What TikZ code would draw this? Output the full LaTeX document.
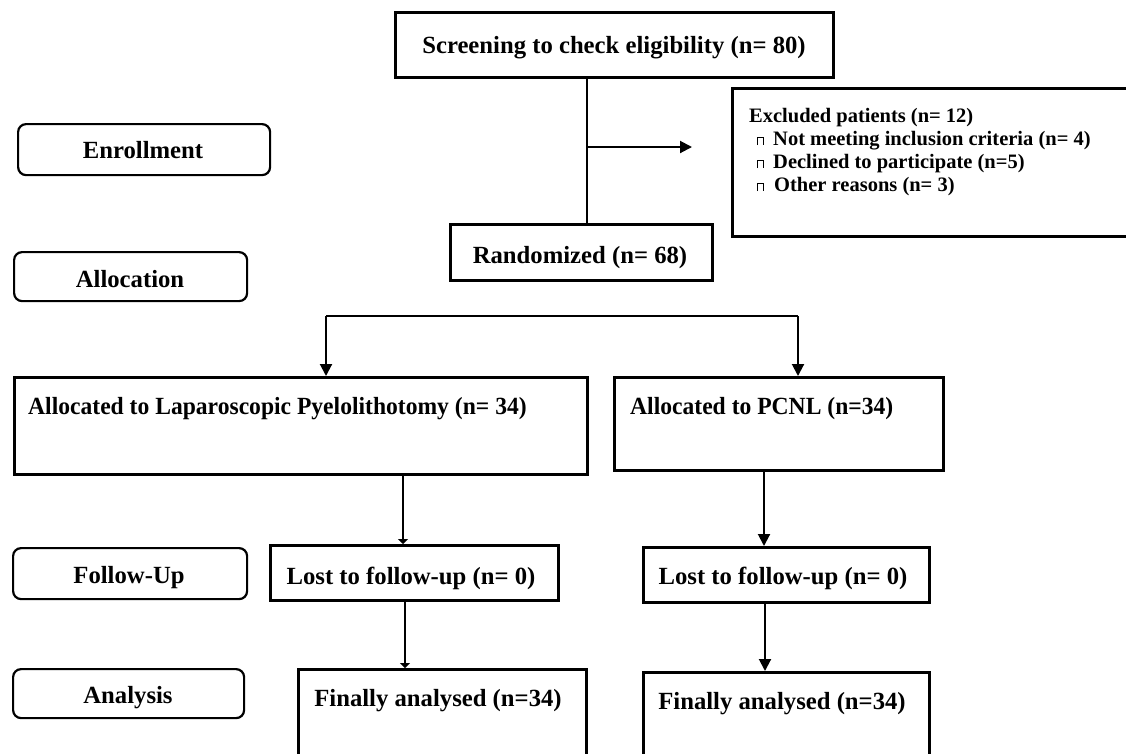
\documentclass[tikz,border=0pt]{standalone}
\usepackage{fontspec}
\setmainfont{Liberation Serif}
\usetikzlibrary{arrows.meta}
\begin{document}
\begin{tikzpicture}[x=1pt,y=-1pt,
  box/.style={draw, line width=2.6pt, inner sep=0pt, anchor=north west},
  rbox/.style={draw, line width=2.2pt, rounded corners=8pt, inner sep=0pt, anchor=north west},
  lbl/.style={anchor=base, inner sep=0pt, font=\fontsize{24.7}{28}\selectfont\bfseries},
  exl/.style={anchor=base west, inner sep=0pt, font=\fontsize{20.5}{24}\selectfont\bfseries},
  bul/.style={line width=0.8pt},
  conn/.style={line width=2pt},
  arr/.style={conn, -{Triangle[length=12pt,width=12pt]}},
  sarr/.style={conn, -{Triangle[length=5pt,width=10pt]}}]
\useasboundingbox (0,0) rectangle (1126,753);
\fill[white] (0,0) rectangle (1126,753);

% boxes
\node[box, minimum width=438pt, minimum height=65pt] (screen) at (394,11) {};
\node[box, minimum width=262pt, minimum height=56pt] (rand) at (449,223) {};
\node[box, minimum width=409pt, minimum height=148pt] (excl) at (731,87) {};
\node[rbox, minimum width=252pt, minimum height=51pt] (enroll) at (17,123) {};
\node[rbox, minimum width=233pt, minimum height=49pt] (alloc) at (13,251) {};
\node[box, minimum width=573pt, minimum height=97pt] (allocL) at (13,376) {};
\node[box, minimum width=329pt, minimum height=93pt] (allocR) at (613,376) {};
\node[rbox, minimum width=234pt, minimum height=51pt] (follow) at (12,547) {};
\node[rbox, minimum width=231pt, minimum height=49pt] (analysis) at (12,668) {};
\node[box, minimum width=288pt, minimum height=55pt] (lostL) at (269,544) {};
\node[box, minimum width=286pt, minimum height=55pt] (lostR) at (642,546) {};
\node[box, minimum width=288pt, minimum height=112pt] (finalL) at (297,668) {};
\node[box, minimum width=286pt, minimum height=109pt] (finalR) at (642,671) {};

% texts
\node[lbl] (screenT) at (614,53) {Screening to check eligibility (n= 80)};
\node[lbl] (randT) at (580,263) {Randomized (n= 68)};
\node[lbl] (enrollT) at (143,158) {Enrollment};
\node[lbl] (allocT) at (130,287) {Allocation};
\node[lbl] (followT) at (129,583) {Follow-Up};
\node[lbl] (analysisT) at (128,703) {Analysis};
\node[lbl, anchor=base west] (allocLT) at (28,414) {\scalebox{0.955}[1]{Allocated to Laparoscopic Pyelolithotomy (n= 34)}};
\node[lbl, anchor=base west] (allocRT) at (630,414) {\scalebox{0.955}[1]{Allocated to PCNL (n=34)}};
\node[lbl] (lostLT) at (411,584) {Lost to follow-up (n= 0)};
\node[lbl] (lostRT) at (783,584) {Lost to follow-up (n= 0)};
\node[lbl] (finalLT) at (438,706) {Finally analysed (n=34)};
\node[lbl] (finalRT) at (782,709) {Finally analysed (n=34)};

\node[exl] (ex0) at (749,122) {Excluded patients (n= 12)};
\node[exl] (ex1) at (773,145) {Not meeting inclusion criteria (n= 4)};
\node[exl] (ex2) at (773,168) {Declined to participate (n=5)};
\node[exl] (ex3) at (774,191) {Other reasons (n= 3)};
\draw[bul] (757,145) -- ++(0,-8) -- ++(6,0) -- ++(0,8);
\draw[bul] (757,168) -- ++(0,-8) -- ++(6,0) -- ++(0,8);
\draw[bul] (757,191) -- ++(0,-8) -- ++(6,0) -- ++(0,8);

% connectors
\coordinate (vx) at (587,0);
\draw[conn] (vx |- screen.south) -- (vx |- rand.north);
\coordinate (exTip) at (692,147);
\draw[arr] (vx |- exTip) -- (exTip);
\coordinate (brL) at (326,316);
\coordinate (brR) at (798,316);
\draw[conn] (brL) -- (brR);
\draw[arr] (brL) -- (brL |- allocL.north);
\draw[arr] (brR) -- (brR |- allocR.north);
\coordinate (xL1) at (403,0);
\draw[sarr] (xL1 |- allocL.south) -- (xL1 |- lostL.north);
\coordinate (xR1) at (764,0);
\draw[arr] (xR1 |- allocR.south) -- (xR1 |- lostR.north);
\coordinate (xL2) at (405,0);
\draw[sarr] (xL2 |- lostL.south) -- (xL2 |- finalL.north);
\coordinate (xR2) at (765,0);
\draw[arr] (xR2 |- lostR.south) -- (xR2 |- finalR.north);
\end{tikzpicture}
\end{document}
